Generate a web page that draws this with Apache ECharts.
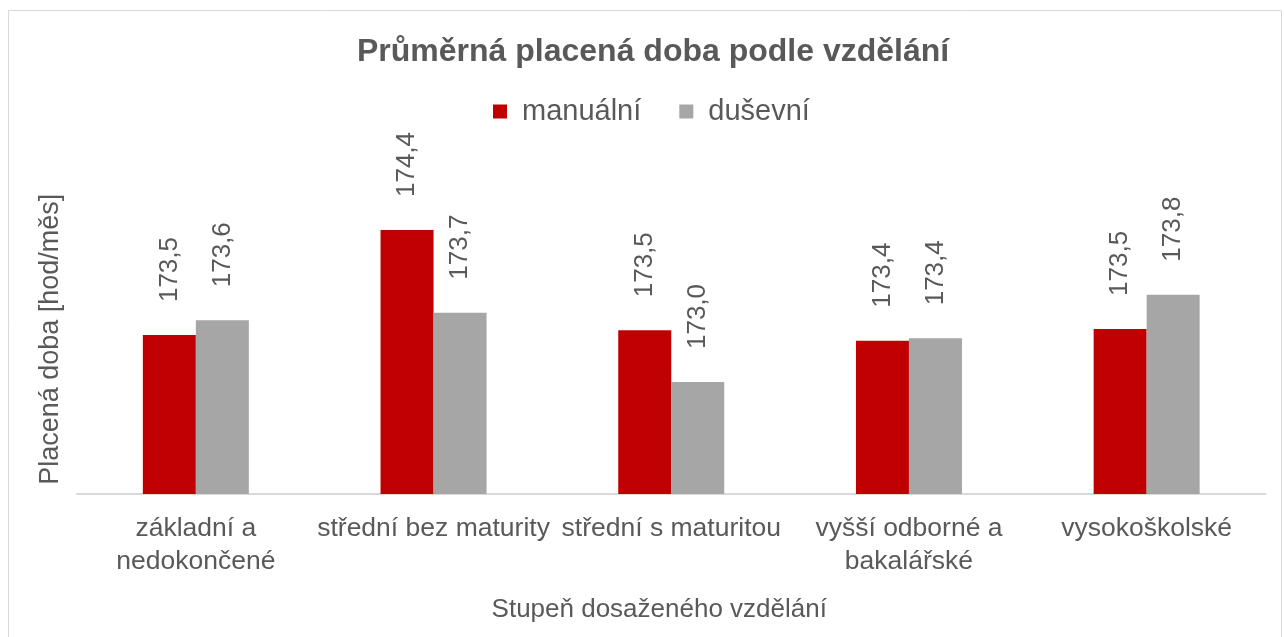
<!DOCTYPE html>
<html>
<head>
<meta charset="utf-8">
<script src="https://cdn.jsdelivr.net/npm/echarts@6/dist/echarts.min.js"></script>
<style>
  html, body { margin: 0; padding: 0; background: #fff; }
  #chart { width: 1284px; height: 637px; }
</style>
</head>
<body>
<div id="chart"></div>
<script>
const categories = [
  'základní a\nnedokončené',
  'střední bez maturity',
  'střední s maturitou',
  'vyšší odborné a\nbakalářské',
  'vysokoškolské'
]
const manualni = [173.465, 174.433, 173.509, 173.413, 173.521]
const dusevni = [173.601, 173.671, 173.032, 173.435, 173.837]

const font = "'Liberation Sans', Arial, sans-serif"
const textColor = '#595959'

const fmt = (p) => p.value.toFixed(1).replace('.', ',')

const valueLabel = {
  show: true,
  position: 'top',
  rotate: 90,
  align: 'left',
  verticalAlign: 'middle',
  distance: 33,
  fontFamily: font,
  fontSize: 26,
  color: textColor,
  formatter: fmt
}

const myChart = echarts.init(document.getElementById('chart'))
myChart.setOption({
  animation: false,
  backgroundColor: '#fff',
  graphic: [{
    type: 'rect',
    shape: { x: 8.5, y: 10.5, width: 1273, height: 700 },
    style: { fill: 'none', stroke: '#d9d9d9', lineWidth: 1 },
    silent: true
  }],
  title: {
    text: 'Průměrná placená doba podle vzdělání',
    left: 357,
    top: 36,
    padding: 0,
    textStyle: {
      fontFamily: font,
      fontSize: 32,
      fontWeight: 'bold',
      color: textColor
    }
  },
  legend: {
    top: 97,
    left: 493,
    padding: 0,
    itemWidth: 14,
    itemHeight: 14,
    itemGap: 38,
    icon: 'rect',
    textStyle: {
      fontFamily: font,
      fontSize: 29,
      color: textColor,
      padding: [0, 0, 0, 10]
    },
    data: ['manuální', 'duševní']
  },
  grid: {
    left: 77,
    right: 18.5,
    top: 168.5,
    bottom: 143,
    containLabel: false
  },
  xAxis: {
    type: 'category',
    data: categories,
    name: 'Stupeň dosaženého vzdělání',
    nameLocation: 'middle',
    nameGap: 103,
    nameTextStyle: {
      fontFamily: font,
      fontSize: 26,
      color: textColor,
      padding: [0, 24, 0, 0]
    },
    axisLine: { lineStyle: { color: '#d9d9d9', width: 2 } },
    axisTick: { show: false },
    axisLabel: {
      interval: 0,
      margin: 18,
      fontFamily: font,
      fontSize: 26.5,
      lineHeight: 33,
      color: textColor
    }
  },
  yAxis: {
    type: 'value',
    min: 172,
    max: 175,
    name: 'Placená doba [hod/měs]',
    nameLocation: 'middle',
    nameRotate: 90,
    nameGap: 13,
    nameTextStyle: {
      fontFamily: font,
      fontSize: 27,
      color: textColor,
      padding: [0, 16, 0, 0]
    },
    axisLine: { show: false },
    axisTick: { show: false },
    axisLabel: { show: false },
    splitLine: { show: false }
  },
  series: [
    {
      name: 'manuální',
      type: 'bar',
      data: manualni,
      barWidth: 53,
      barGap: '0%',
      itemStyle: { color: '#C00000' },
      label: valueLabel
    },
    {
      name: 'duševní',
      type: 'bar',
      data: dusevni,
      barWidth: 53,
      barGap: '0%',
      itemStyle: { color: '#A6A6A6' },
      label: valueLabel
    }
  ]
})
</script>
</body>
</html>
